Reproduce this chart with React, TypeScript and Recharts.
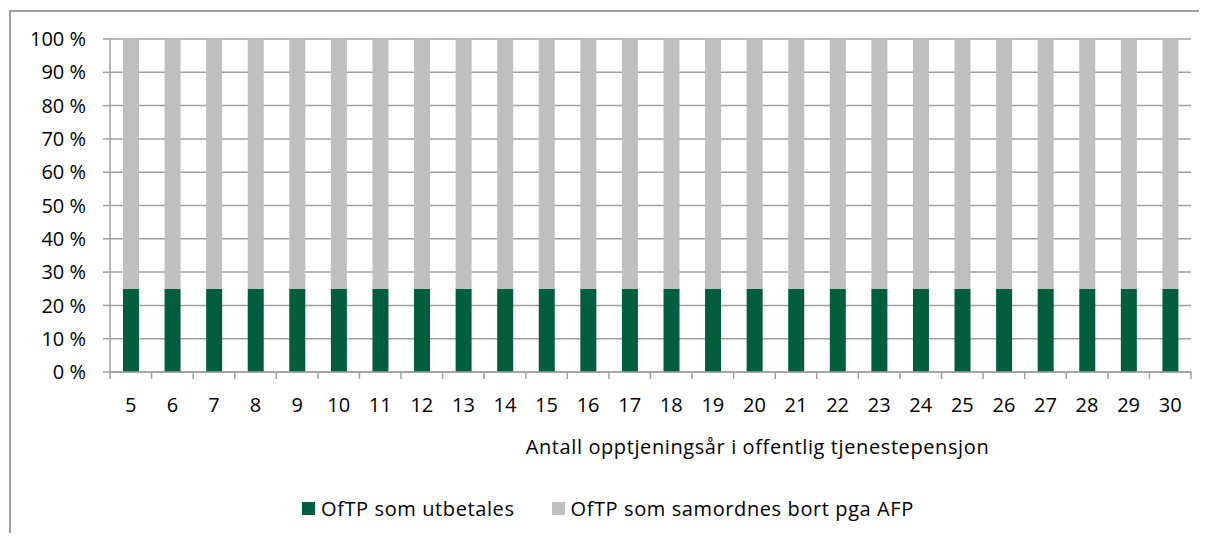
import { BarChart, Bar, XAxis, YAxis, CartesianGrid, Label } from 'recharts';

const years = ['5', '6', '7', '8', '9', '10', '11', '12', '13', '14', '15', '16', '17', '18', '19', '20', '21', '22', '23', '24', '25', '26', '27', '28', '29', '30'];
const utbetales = [25, 25, 25, 25, 25, 25, 25, 25, 25, 25, 25, 25, 25, 25, 25, 25, 25, 25, 25, 25, 25, 25, 25, 25, 25, 25];
const samordnes = [75, 75, 75, 75, 75, 75, 75, 75, 75, 75, 75, 75, 75, 75, 75, 75, 75, 75, 75, 75, 75, 75, 75, 75, 75, 75];
const yTicks = [0, 10, 20, 30, 40, 50, 60, 70, 80, 90, 100];

const seriesNames = ['OfTP som utbetales', 'OfTP som samordnes bort pga AFP'];
const xTitle = 'Antall opptjeningsår i offentlig tjenestepensjon';

const GREEN = '#005e3c';
const GREY = '#bfbfbf';
const LINE = '#a0a0a0';
const FONT = '"Open Sans", sans-serif';
const FS = 20;

const W = 1207;
const H = 541;
const PLOT_LEFT = 110;
const PLOT_RIGHT = 16;
const BAND = (W - PLOT_LEFT - PLOT_RIGHT) / years.length;

const data = years.map((year, i) => ({
  year,
  utbetales: utbetales[i],
  samordnes: samordnes[i],
}));

// category ticks: label in the middle, tick marks on the band edges
const XTick = (props: any) => {
  const { x, y, payload, index } = props;
  const axisY = y - 7 - 20;
  return (
    <g>
      <line x1={x - BAND / 2} x2={x - BAND / 2} y1={axisY} y2={axisY + 7} stroke={LINE} strokeWidth={1.5} />
      {index === years.length - 1 && (
        <line x1={x + BAND / 2} x2={x + BAND / 2} y1={axisY} y2={axisY + 7} stroke={LINE} strokeWidth={1.5} />
      )}
      <text x={x} y={y} dy="0.64em" textAnchor="middle" fill="#000" fontSize={FS} fontFamily={FONT}>
        {payload.value}
      </text>
    </g>
  );
};

export default function App() {
  return (
    <div style={{ position: 'relative', width: W, height: H, margin: -8, background: '#fff' }}>
      <div style={{ position: 'absolute', left: 9, top: 10, width: W - 9, height: 2, background: LINE }} />
      <div style={{ position: 'absolute', left: 9, top: 10, width: 2, height: H - 10, background: LINE }} />
      <BarChart
        width={W}
        height={H}
        data={data}
        margin={{ top: 39, right: PLOT_RIGHT, left: 0, bottom: 0 }}
        style={{ position: 'absolute', left: 0, top: 0 }}
      >
        <CartesianGrid vertical={false} stroke={LINE} strokeWidth={1.5} />
        <YAxis
          width={PLOT_LEFT}
          domain={[0, 100]}
          ticks={yTicks}
          interval={0}
          tickFormatter={(v: number) => `${v} %`}
          axisLine={{ stroke: LINE, strokeWidth: 1.5 }}
          tickLine={{ stroke: LINE, strokeWidth: 1.5 }}
          tickSize={7}
          tickMargin={17}
          tick={{ fill: '#000', fontSize: FS, fontFamily: FONT }}
        />
        <XAxis
          dataKey="year"
          height={H - 372}
          interval={0}
          tickLine={false}
          tickSize={7}
          tickMargin={20}
          axisLine={{ stroke: LINE, strokeWidth: 1.5 }}
          tick={<XTick />}
        >
          <Label
            content={({ viewBox }: any) => (
              <text
                x={viewBox.x + viewBox.width / 2 + 107}
                y={viewBox.y + 82}
                textAnchor="middle"
                fill="#000"
                fontSize={FS}
                fontFamily={FONT}
                letterSpacing={0.6}
              >
                {xTitle}
              </text>
            )}
          />
        </XAxis>
        <Bar dataKey="utbetales" name={seriesNames[0]} stackId="a" fill={GREEN} barSize={16} isAnimationActive={false} />
        <Bar dataKey="samordnes" name={seriesNames[1]} stackId="a" fill={GREY} barSize={16} isAnimationActive={false} />
      </BarChart>
      <div
        style={{
          position: 'absolute',
          left: 302,
          top: 495,
          display: 'flex',
          alignItems: 'center',
          fontFamily: FONT,
          fontSize: FS,
          letterSpacing: 0.6,
          color: '#000',
        }}
      >
        <span style={{ width: 13, height: 13, background: GREEN, display: 'inline-block', marginRight: 6 }} />
        <span style={{ marginRight: 37 }}>{seriesNames[0]}</span>
        <span style={{ width: 13, height: 13, background: GREY, display: 'inline-block', marginRight: 6 }} />
        <span>{seriesNames[1]}</span>
      </div>
    </div>
  );
}
